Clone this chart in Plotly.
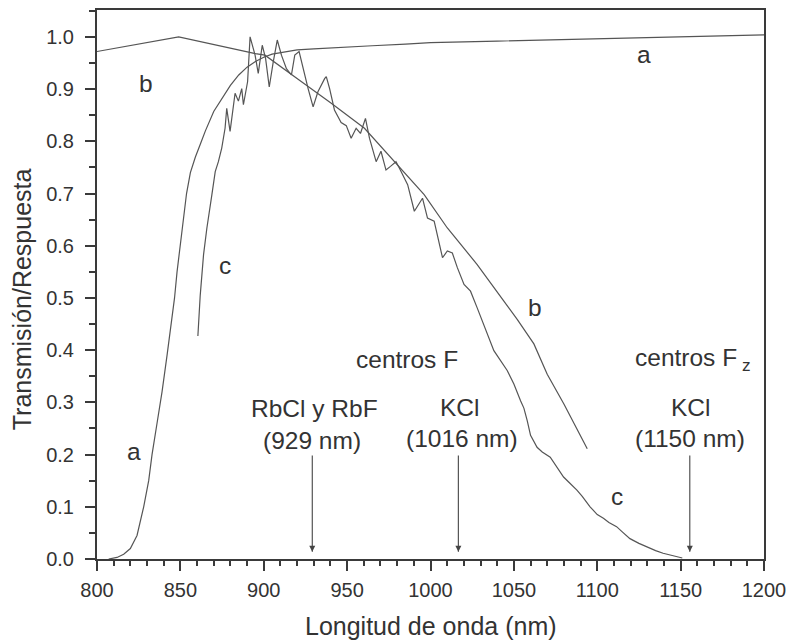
import plotly.graph_objects as go

# ---- data ----
a_x = [807, 812, 816, 820, 824, 826, 828, 831, 833, 836, 839, 842, 844, 846.5, 848, 850,
       852, 853.7, 856, 859, 862, 865, 870, 875, 880, 885, 890, 895, 900, 905, 910, 915,
       920, 930, 945, 965, 985, 1000, 1040, 1070, 1100, 1150, 1200]
a_y = [0.0, 0.003, 0.009, 0.02, 0.045, 0.07, 0.1, 0.15, 0.2, 0.26, 0.32, 0.39, 0.44, 0.5,
       0.55, 0.6, 0.65, 0.7, 0.74, 0.77, 0.795, 0.82, 0.857, 0.883, 0.907, 0.927, 0.942,
       0.953, 0.961, 0.967, 0.970, 0.972, 0.975, 0.977, 0.979, 0.983, 0.986, 0.989, 0.992,
       0.994, 0.996, 1.0, 1.004]

b_x = [800, 849, 895, 900.7, 920.6, 940.5, 960.4, 980.3, 996.2, 1010.1, 1028, 1044, 1052,
       1062, 1070, 1080, 1094]
b_y = [0.972, 1.0, 0.968, 0.965, 0.919, 0.873, 0.825, 0.755, 0.698, 0.634, 0.564, 0.494,
       0.459, 0.412, 0.354, 0.297, 0.211]

c_x = [860.5, 860.9, 861.9, 863.9, 865.9, 868.9, 870.9, 872.8, 874.8, 876.8, 877.8, 879.8,
       882.8, 884.8, 886.8, 887.8, 890.3, 891.8, 894.8, 896.7, 899.1, 901.1, 903.3, 905.7,
       908.1, 910.6, 913.6, 916.6, 918.6, 921.2, 923.6, 926.6, 929.6, 932.5, 936.5, 937.5,
       939.5, 942.4, 946.4, 949.5, 952.4, 955.4, 958, 961, 963.4, 967.4, 970.3, 973.3, 976,
       979.3, 981.3, 986.3, 990.3, 995.2, 998.2, 1002.2, 1007.2, 1010.1, 1013.1, 1016.1,
       1020.1, 1024, 1028, 1031, 1038, 1046, 1050, 1054, 1056, 1058, 1060, 1063.9, 1067,
       1071.8, 1075, 1079.8, 1083, 1087.8, 1091, 1095.7, 1100, 1103.7, 1107, 1111.6, 1115,
       1119.6, 1125, 1131.5, 1135, 1139.5, 1145, 1149.4, 1151]
c_y = [0.427, 0.456, 0.505, 0.583, 0.634, 0.698, 0.742, 0.761, 0.787, 0.825, 0.863, 0.819,
       0.892, 0.877, 0.901, 0.870, 0.914, 1.0, 0.965, 0.930, 0.984, 0.959, 0.904, 0.952,
       0.994, 0.965, 0.939, 0.927, 0.965, 0.972, 0.939, 0.901, 0.866, 0.895, 0.920, 0.924,
       0.901, 0.860, 0.836, 0.83, 0.806, 0.825, 0.815, 0.844, 0.806, 0.761, 0.781, 0.745,
       0.752, 0.761, 0.749, 0.717, 0.666, 0.691, 0.653, 0.647, 0.577, 0.590, 0.586, 0.558,
       0.526, 0.513, 0.481, 0.456, 0.399, 0.361, 0.335, 0.303, 0.289, 0.265, 0.237, 0.214,
       0.205, 0.195, 0.18, 0.157, 0.147, 0.132, 0.12, 0.10, 0.085, 0.078, 0.07, 0.062, 0.052,
       0.039, 0.03, 0.020, 0.016, 0.011, 0.006, 0.003, 0.002]

label_text = ["a", "b", "c", "a", "b", "c",
              "centros F", "RbCl y RbF", "(929 nm)", "KCl", "(1016 nm)",
              "centros F<sub> z</sub>", "KCl", "(1150 nm)"]
label_x = [1127.8, 829.4, 876.8, 822.1, 1062.9, 1111.6,
           985.8, 930.5, 929.0, 1017.6, 1019.1, 1121.6, 1155.9, 1155.9]
label_y = [0.966, 0.911, 0.563, 0.205, 0.482, 0.119,
           0.383, 0.2876, 0.227, 0.291, 0.230, 0.383, 0.291, 0.230]
label_anchor = ["center"] * 11 + ["left", "center", "center"]

arrow_x = [929.1, 1016.7, 1155.5]
arrow_top = 0.198
arrow_tip = 0.014

x_ticks = [800, 850, 900, 950, 1000, 1050, 1100, 1150, 1200]
y_ticks = [0.0, 0.1, 0.2, 0.3, 0.4, 0.5, 0.6, 0.7, 0.8, 0.9, 1.0]

# ---- figure ----
FONT = "Liberation Sans, Arial, Helvetica, sans-serif"
LINE = "#555555"
TEXT = "#333333"

fig = go.Figure()
for xs, ys in [(a_x, a_y), (b_x, b_y), (c_x, c_y)]:
    fig.add_trace(go.Scatter(x=xs, y=ys, mode="lines",
                             line=dict(color=LINE, width=1.2), showlegend=False,
                             hoverinfo="skip"))

# arrows: vertical line + arrow-head marker whose tip sits on the end point
for x in arrow_x:
    fig.add_trace(go.Scatter(x=[x, x], y=[arrow_top, arrow_tip], mode="lines",
                             line=dict(color="#444444", width=1.1), showlegend=False,
                             hoverinfo="skip"))
fig.add_trace(go.Scatter(x=arrow_x, y=[arrow_tip] * len(arrow_x), mode="markers",
                         marker=dict(symbol="arrow-down", size=6, color="#444444",
                                     line=dict(width=0)),
                         showlegend=False, hoverinfo="skip"))

for t, x, y, anc in zip(label_text, label_x, label_y, label_anchor):
    fig.add_annotation(x=x, y=y, text=t, showarrow=False, xanchor=anc, yanchor="middle",
                       font=dict(family=FONT, size=24.5, color=TEXT))

fig.add_annotation(xref="paper", yref="paper", x=0.5, y=-67 / 551, text="Longitud de onda (nm)",
                   showarrow=False, xanchor="center", yanchor="middle",
                   font=dict(family=FONT, size=25, color=TEXT))
fig.add_annotation(xref="paper", yref="paper", x=(22 - 97) / 670, y=(559 - 298) / 551,
                   text="Transmisión/Respuesta", textangle=-90,
                   showarrow=False, xanchor="center", yanchor="middle",
                   font=dict(family=FONT, size=25, color=TEXT))

axis_common = dict(showline=True, linecolor="#3a3a3a", linewidth=2, mirror=True,
                   ticks="outside", ticklen=10, tickwidth=1.5, tickcolor="#3a3a3a",
                   showgrid=False, zeroline=False,
                   tickfont=dict(family=FONT, size=20, color=TEXT))

fig.update_xaxes(range=[800, 1200], tickvals=x_ticks, ticktext=[str(v) for v in x_ticks],
                 minor=dict(dtick=10, tick0=800, ticks="outside", ticklen=5,
                            tickwidth=1.5, tickcolor="#3a3a3a"),
                 ticklabelstandoff=2, **axis_common)
fig.update_yaxes(range=[0, 1.0515], tickvals=y_ticks, ticktext=[f"{v:.1f}" for v in y_ticks],
                 minor=dict(dtick=0.05, tick0=0, ticks="outside", ticklen=6,
                            tickwidth=1.5, tickcolor="#3a3a3a"),
                 ticklabelstandoff=7, **axis_common)

fig.update_layout(width=794, height=641, margin=dict(l=97, r=27, t=8, b=82),
                  plot_bgcolor="white", paper_bgcolor="white",
                  font=dict(family=FONT, color=TEXT))

fig.write_html("out.html", config={"displayModeBar": False},
               post_script="document.body.style.margin='0px';"
                           "document.body.style.overflow='hidden';")
